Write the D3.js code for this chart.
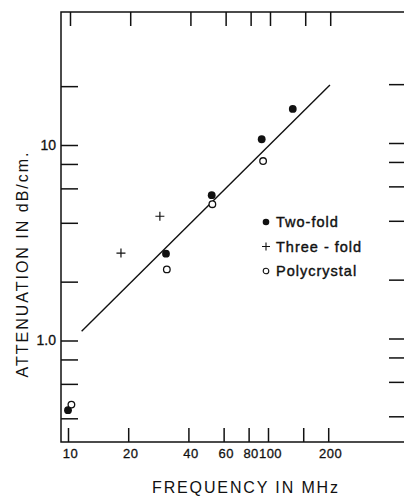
<!DOCTYPE html>
<html>
<head>
<meta charset="utf-8">
<script src="https://cdn.jsdelivr.net/npm/d3@7/dist/d3.min.js"></script>
<style>
  html, body { margin: 0; padding: 0; background: #fff; }
  svg { display: block; }
  text { font-family: "Liberation Sans", Arial, sans-serif; fill: #111; }
</style>
</head>
<body>
<svg id="chart" width="404" height="496"></svg>
<script>
// Attenuation versus frequency (log-log)
const twoFoldFreq = [10, 30.9, 52.3, 93, 133];
const twoFoldAtt  = [0.44, 2.78, 5.54, 10.7, 15.3];

const threeFoldFreq = [18.4, 28.8];
const threeFoldAtt  = [2.8, 4.32];

const polyFreq = [10.4, 31.2, 52.7, 94.5];
const polyAtt  = [0.47, 2.31, 4.98, 8.28];

const fitFreq = [11.7, 204];
const fitAtt  = [1.116, 20.3];

const xTickValues = [10, 20, 40, 60, 80, 100, 150, 200];
const xTickLabels = ["10", "20", "40", "60", "80", "100", "", "200"];
const yTickValues = [0.4, 0.6, 0.8, 1, 2, 4, 6, 8, 10, 20];
const yTickLabels = ["", "", "", "1.0", "", "", "", "", "10", ""];

const legendNames = ["Two-fold", "Three - fold", "Polycrystal"];

const svg = d3.select("#chart");

// frame edges (pixels)
const frameLeft = 61, frameTop = 12, frameBottom = 442, frameRight = 408;

const x = d3.scaleLog().domain([10, 100]).range([68, 268]);
const y = d3.scaleLog().domain([1, 10]).range([340.5, 145]);

const ink = "#111";

// frame: left, top, bottom (right edge runs off the page)
svg.append("path")
  .attr("d", `M${frameRight},${frameTop}H${frameLeft}V${frameBottom}H${frameRight}`)
  .attr("fill", "none").attr("stroke", ink).attr("stroke-width", 1.5);

const xLab = d => xTickLabels[xTickValues.indexOf(d)];
const yLab = d => yTickLabels[yTickValues.indexOf(d)];

function styleAxis(g) {
  g.select(".domain").remove();
  g.selectAll(".tick line").attr("stroke", ink).attr("stroke-width", 1.5);
  g.selectAll(".tick text").attr("fill", ink)
    .attr("stroke", ink).attr("stroke-width", 0.3);
}

// bottom axis, inward ticks with labels
svg.append("g")
  .attr("transform", `translate(0,${frameBottom})`)
  .call(d3.axisBottom(x).tickValues(xTickValues).tickFormat(xLab)
        .tickSize(-14).tickPadding(7))
  .call(styleAxis)
  .call(g => g.selectAll(".tick text")
    .attr("dx", 2)
    .style("font-size", "13px").style("letter-spacing", "0.5px")
    .style("font-family", "'Liberation Sans', Arial, sans-serif"));

// top axis, inward ticks only
svg.append("g")
  .attr("transform", `translate(2,${frameTop})`)
  .call(d3.axisTop(x).tickValues(xTickValues).tickFormat("").tickSize(-14))
  .call(styleAxis);

// left axis, inward ticks with labels
svg.append("g")
  .attr("transform", `translate(${frameLeft},0)`)
  .call(d3.axisLeft(y).tickValues(yTickValues).tickFormat(yLab)
        .tickSize(-17).tickPadding(5))
  .call(styleAxis)
  .call(g => g.selectAll(".tick text")
    .style("font-size", "14px")
    .style("font-family", "'Liberation Sans', Arial, sans-serif"));

// right axis, inward ticks only
svg.append("g")
  .attr("transform", `translate(${frameRight},-2)`)
  .call(d3.axisRight(y).tickValues(yTickValues).tickFormat("").tickSize(-19))
  .call(styleAxis);

// fitted line
const line = d3.line().x(d => x(d[0])).y(d => y(d[1]));
svg.append("path")
  .datum(d3.zip(fitFreq, fitAtt))
  .attr("d", line)
  .attr("fill", "none").attr("stroke", ink).attr("stroke-width", 1.4);

// two-fold: filled dots
svg.append("g").selectAll("circle")
  .data(d3.zip(twoFoldFreq, twoFoldAtt))
  .join("circle")
  .attr("cx", d => x(d[0])).attr("cy", d => y(d[1]))
  .attr("r", 3.9).attr("fill", ink);

// polycrystal: open circles
svg.append("g").selectAll("circle")
  .data(d3.zip(polyFreq, polyAtt))
  .join("circle")
  .attr("cx", d => x(d[0])).attr("cy", d => y(d[1]))
  .attr("r", 3.3).attr("fill", "#fff").attr("stroke", ink).attr("stroke-width", 1.3);

// three-fold: plus signs
const plus = (cx, cy, s) => `M${cx - s},${cy}H${cx + s}M${cx},${cy - s}V${cy + s}`;
svg.append("g").selectAll("path")
  .data(d3.zip(threeFoldFreq, threeFoldAtt))
  .join("path")
  .attr("d", d => plus(x(d[0]), y(d[1]), 4.5))
  .attr("stroke", ink).attr("stroke-width", 1.2).attr("fill", "none");

// legend
const legend = svg.append("g").attr("transform", "translate(266,222)");
const rowGap = 24.5;
legend.append("circle").attr("cx", 0).attr("cy", 0).attr("r", 3.3).attr("fill", ink);
legend.append("path").attr("d", plus(0, rowGap, 4)).attr("stroke", ink).attr("stroke-width", 1.1);
legend.append("circle").attr("cx", 0).attr("cy", rowGap * 2).attr("r", 2.8)
  .attr("fill", "#fff").attr("stroke", ink).attr("stroke-width", 1.1);
legend.selectAll("text")
  .data(legendNames)
  .join("text")
  .attr("x", 10).attr("y", (d, i) => i * rowGap)
  .attr("dy", "0.36em")
  .attr("stroke", ink).attr("stroke-width", 0.4)
  .style("font-size", "14.5px").style("letter-spacing", "1px")
  .text(d => d);

// axis titles
svg.append("text")
  .attr("x", 245).attr("y", 493)
  .attr("text-anchor", "middle")
  .attr("textLength", 186).attr("lengthAdjust", "spacing")
  .style("font-size", "16px")
  .text("FREQUENCY  IN  MHz");

svg.append("text")
  .attr("transform", "translate(28,265) rotate(-90)")
  .attr("text-anchor", "middle")
  .attr("textLength", 225).attr("lengthAdjust", "spacing")
  .style("font-size", "16px")
  .text("ATTENUATION  IN  dB/cm.");
</script>
</body>
</html>
